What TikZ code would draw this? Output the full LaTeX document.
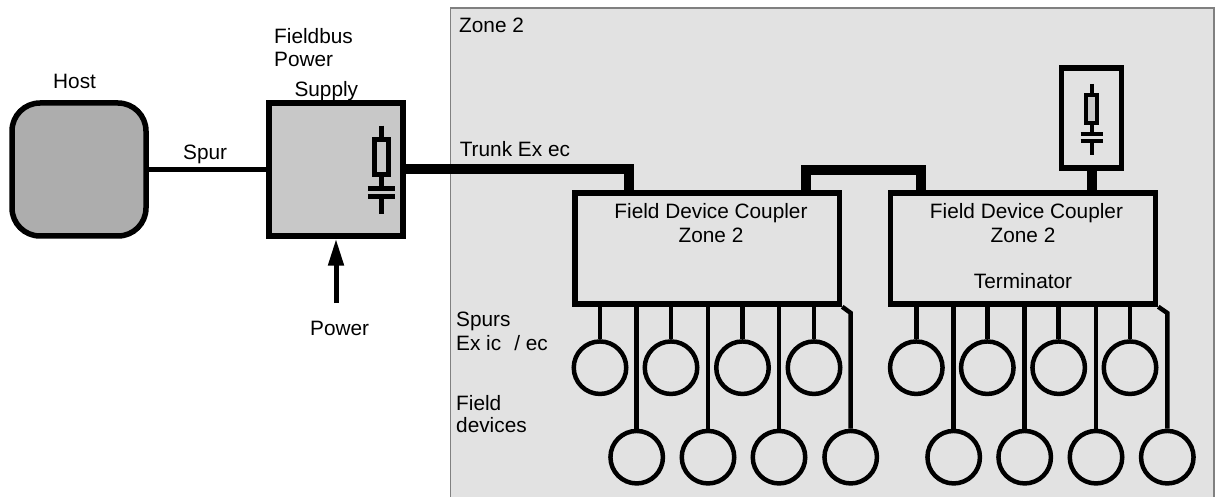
\documentclass[tikz,border=0pt]{standalone}
\usepackage{fontspec}
\setmainfont{Liberation Sans}
\usepackage{xcolor}
\usetikzlibrary{arrows.meta,positioning}
\definecolor{ZoneGray}{HTML}{E2E2E2}
\definecolor{ZoneEdge}{HTML}{808080}
\definecolor{HostGray}{HTML}{ADADAD}
\definecolor{SupplyGray}{HTML}{C8C8C8}
\tikzset{
  lab/.style={font=\fontsize{20.8}{23}\selectfont,inner sep=0pt,anchor=base west,text=black},
  labc/.style={lab,anchor=base},
  boxnode/.style={draw=black,line width=5.5pt,inner sep=0pt,rectangle},
  devnode/.style={draw=black,line width=4.5pt,circle,inner sep=0pt,minimum size=52.5pt},
  spurline/.style={draw=black,line width=4.5pt},
  trunkline/.style={draw=black,line width=10pt},
  termsym/.pic={
    \draw (0,0)--(0,11);
    \draw[fill=SupplyGray] (-5.5,11) rectangle (5.5,39);
    \draw (0,39)--(0,50);
    \draw (-11,50)--(11,50);
    \draw (-11,57)--(11,57);
    \draw (0,57)--(0,71);
  }
}
\begin{document}
\begin{tikzpicture}[x=1pt,y=-1pt]
\useasboundingbox (0,0) rectangle (1216,497);
\fill[ZoneGray] (450.5,8) rectangle (1214,497);
\draw[ZoneEdge,line width=1.5pt] (450.5,497)--(450.5,8)--(1214,8)--(1214,497);
% boxes
\node[boxnode,fill=HostGray,rounded corners=28pt,minimum width=134pt,minimum height=133pt] (host) at (79,169.5) {};
\node[boxnode,fill=SupplyGray,minimum width=134pt,minimum height=133pt] (supply) at (336,169.5) {};
\node[boxnode,minimum width=264.5pt,minimum height=111pt] (cpA) at (707.2,248.5) {};
\node[boxnode,minimum width=265pt,minimum height=111pt] (cpB) at (1023,248.5) {};
\node[boxnode,minimum width=60pt,minimum height=100pt] (term) at (1091.5,118) {};
% resistor and capacitor
\pic[scale=1.25,line width=5pt] at (381.6,125.7) {termsym};
\pic[line width=4pt] at (1091.7,84) {termsym};
% bus lines
\coordinate (tkA) at (629,190);
\coordinate (lkA) at (805.5,190);
\coordinate (lkB) at (921,190);
\coordinate (pwr) at (336,303);
\coordinate (kinkA) at (850.7,313);
\coordinate (kinkB) at (1167.3,313);
\draw[line width=5pt] (host.east)--(supply.west);
\draw[trunkline] (supply.east) -| (tkA);
\draw[trunkline] (lkA) -- ++(0,-20) -| (lkB);
\draw[trunkline] (term.south) -- (term.south |- cpB.north);
\draw[line width=5pt,-{Triangle[length=27pt,width=15pt]}] (pwr)--(supply.south);
% field devices
\foreach \i/\x in {1/600,2/671,3/742.5,4/814} {
  \node[devnode] (da\i) at (\x,367.7) {};
  \draw[spurline] (da\i.north |- cpA.south)--(da\i.north);
}
\foreach \i/\x in {1/636.7,2/708,3/779,4/850.7} {
  \node[devnode] (db\i) at (\x,457.2) {};
}
\foreach \i in {1,2,3} {
  \draw[spurline] (db\i.north |- cpA.south)--(db\i.north);
}
\draw[spurline] (cpA.south east)--(kinkA)--(db4.north);
\foreach \i/\x in {1/916.3,2/987.3,3/1058.7,4/1130} {
  \node[devnode] (dc\i) at (\x,367.7) {};
  \draw[spurline] (dc\i.north |- cpB.south)--(dc\i.north);
}
\foreach \i/\x in {1/953.7,2/1024.7,3/1096,4/1167.3} {
  \node[devnode] (dd\i) at (\x,457.2) {};
}
\foreach \i in {1,2,3} {
  \draw[spurline] (dd\i.north |- cpB.south)--(dd\i.north);
}
\draw[spurline] (cpB.south east)--(kinkB)--(dd4.north);
% labels
\node[lab] (lbhost) at (53,88.5) {Host};
\node[lab] (lbfb) at (274,43.5) {Fieldbus};
\node[lab] (lbpw) at (274,66.5) {Power};
\node[lab] (lbsu) at (294.3,96.5) {Supply};
\node[lab] (lbspur) at (183,159.5) {Spur};
\node[lab] (lbzone) at (459,32.5) {Zone 2};
\node[lab] (lbtrunk) at (459.6,157) {Trunk Ex ec};
\node[labc] (lbca) at (711,219) {Field Device Coupler};
\node[labc] (lbcb) at (711,242.5) {Zone 2};
\node[labc] (lbcc) at (1026.5,219) {Field Device Coupler};
\node[labc] (lbcd) at (1023,242.5) {Zone 2};
\node[labc] (lbterm) at (1023,289) {Terminator};
\node[lab] (lbpower) at (310,335.5) {Power};
\node[lab] (lbspurs) at (456,326) {Spurs};
\node[lab] (lbex) at (456,350) {Ex ic\ \hspace{1.5pt}\ / ec};
\node[lab] (lbfld) at (456,410) {Field};
\node[lab] (lbdev) at (456,432.5) {devices};
\end{tikzpicture}
\end{document}
